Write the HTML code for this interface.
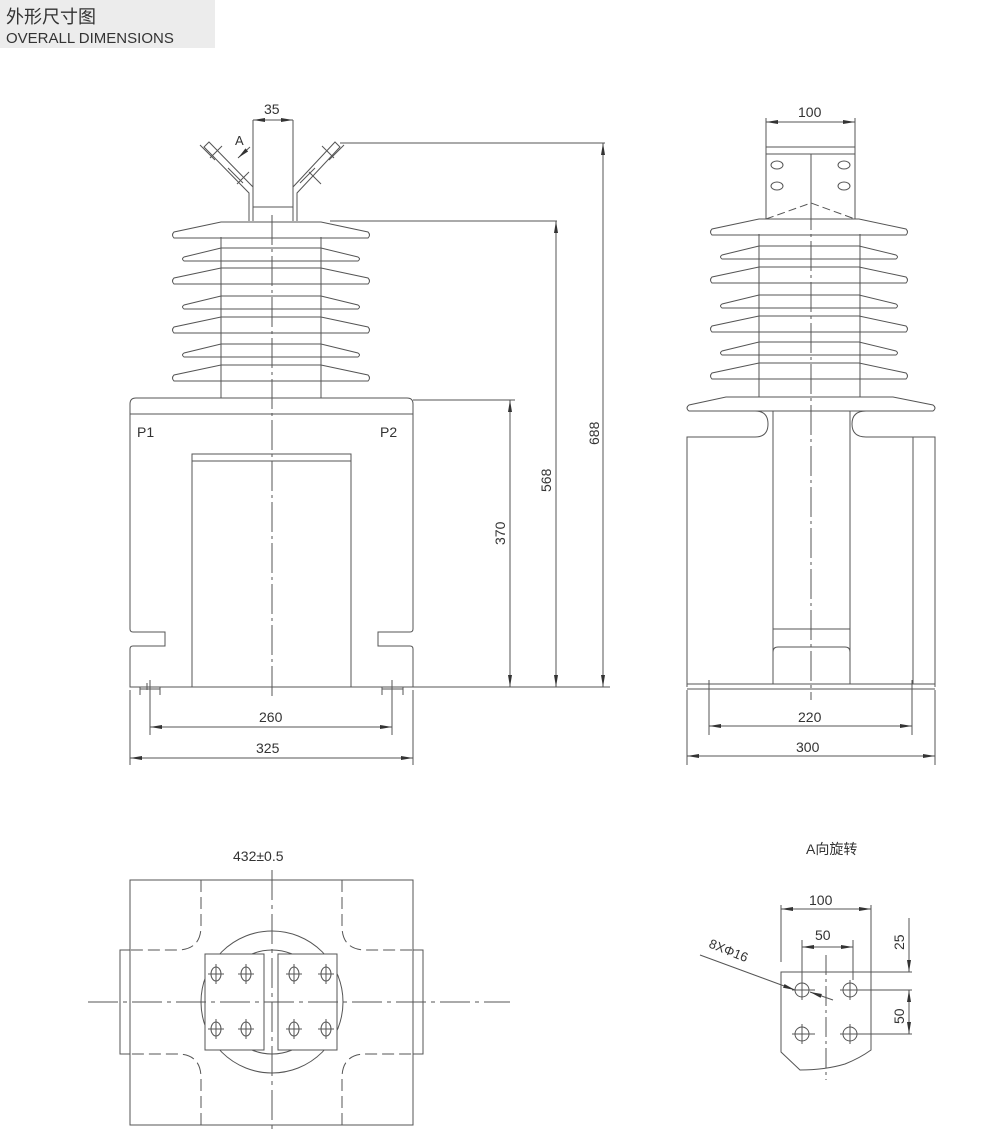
<!DOCTYPE html>
<html><head><meta charset="utf-8"><style>
html,body{margin:0;padding:0;background:#fff;}
svg{display:block;}
text{font-family:"Liberation Sans","Noto Sans CJK SC",sans-serif;fill:#333;}
</style></head><body>
<svg width="990" height="1140" viewBox="0 0 990 1140" xmlns="http://www.w3.org/2000/svg">
<defs>
<marker id="ar" markerWidth="12" markerHeight="6" refX="12" refY="3" orient="auto-start-reverse" markerUnits="userSpaceOnUse"><path d="M0,1 L12,3 L0,5 Z" fill="#333"/></marker>
<g id="shedL"><path d="M221,0 H321 L368,10 Q371,13 368,16 H174 Q171,13 174,10 Z"/></g>
<g id="shedS"><path d="M221,0 H321 L358,9 Q361,11 358,13 H184 Q181,11 184,9 Z"/></g>
</defs>
<rect x="0" y="0" width="215" height="48" fill="#ececec"/>
<text x="6" y="23" font-size="18" fill="#222">外形尺寸图</text>
<text x="6" y="43" font-size="15" fill="#222">OVERALL DIMENSIONS</text>

<g fill="none" stroke="#555" stroke-width="1">
<path d="M253,120 V221 M293,120 V221 M253,207 H293"/>
<path d="M249,221 V193 L204,147 L209,142 L253,187"/>
<path d="M297,221 V193 L340,147 L335,142 L293,187"/>
<path d="M210,158 L222,146 M237,184 L249,172 M309,172 L321,184 M322,146 L334,158 M200,145 L215,160 M228,168 L243,183 M300,183 L315,168 M329,160 L344,145"/>
<path d="M250,147 L238,158" marker-end="url(#ar)"/>
<use href="#shedL" y="222"/><use href="#shedS" y="248"/><use href="#shedL" y="268"/><use href="#shedS" y="296"/><use href="#shedL" y="317"/><use href="#shedS" y="344"/><use href="#shedL" y="365"/>
<path d="M221,237 V398 M321,237 V398"/>
<path d="M130,687 V649 Q130,646 133,646 H165 V632 H133 Q130,632 130,629 V404 Q130,398 136,398 H407 Q413,398 413,404 V629 Q413,632 410,632 H378 V646 H410 Q413,646 413,649 V687 Z"/>
<path d="M130,414 H413"/>
<path d="M192,687 V454 H351 V687 M192,461 H351"/>
<path d="M140,695 V687 M147,690 V683 M160,695 V687 M382,695 V687 M403,695 V687 M140,689 H160 M382,689 H403"/>
<path d="M272,215 V700" stroke-dasharray="30,4,3,4"/>
<path d="M330,221 H557 M340,143 H605 M413,400 H515 M413,687 H610"/>
<path d="M253,120 H293" marker-start="url(#ar)" marker-end="url(#ar)"/>
<path d="M510,400 V687" marker-start="url(#ar)" marker-end="url(#ar)"/>
<path d="M556,221 V687" marker-start="url(#ar)" marker-end="url(#ar)"/>
<path d="M603,143 V687" marker-start="url(#ar)" marker-end="url(#ar)"/>
<path d="M150,680 V735 M392,680 V735 M130,690 V765 M413,690 V765"/>
<path d="M150,727 H392" marker-start="url(#ar)" marker-end="url(#ar)"/>
<path d="M130,758 H413" marker-start="url(#ar)" marker-end="url(#ar)"/>

<path d="M766,118 V219 M855,118 V219 M766,147 H855 M766,154 H855 M811,154 V200"/>
<ellipse cx="777" cy="165" rx="6" ry="4"/><ellipse cx="844" cy="165" rx="6" ry="4"/>
<ellipse cx="777" cy="186" rx="6" ry="4"/><ellipse cx="844" cy="186" rx="6" ry="4"/>
<path d="M766,219 L811,203 L855,219" stroke-dasharray="8,4"/>
<use href="#shedL" x="538" y="219"/><use href="#shedS" x="538" y="246"/><use href="#shedL" x="538" y="267"/><use href="#shedS" x="538" y="295"/><use href="#shedL" x="538" y="316"/><use href="#shedS" x="538" y="342"/><use href="#shedL" x="538" y="363"/>
<path d="M759,234 V397 M860,234 V397"/>
<path d="M726,397 H893 L933,405 Q937,408 933,411 H689 Q685,408 689,405 Z"/>
<path d="M687,687 V437 H755 Q768,437 768,424 Q768,411 755,411 M773,411 V684"/>
<path d="M935,687 V437 H866 Q852,437 852,424 Q852,411 866,411 M850,411 V684 M913,437 V684"/>
<path d="M773,629 H850 M773,684 V652 Q773,647 778,647 H845 Q850,647 850,652"/>
<path d="M687,684 H935 M687,689 H935"/>
<path d="M811,200 V700" stroke-dasharray="30,4,3,4"/>
<path d="M766,122 H855" marker-start="url(#ar)" marker-end="url(#ar)"/>
<path d="M709,680 V735 M912,680 V735 M687,690 V765 M935,690 V765"/>
<path d="M709,726 H912" marker-start="url(#ar)" marker-end="url(#ar)"/>
<path d="M687,756 H935" marker-start="url(#ar)" marker-end="url(#ar)"/>

<path d="M130,880 H413 V950 H423 V1054 H413 V1125 H130 V1054 H120 V950 H130 Z"/>
<path d="M130,880 V1125 M413,880 V1125"/>
<g stroke-dasharray="12,5">
<path d="M201,880 V926 Q201,950 177,950 H120"/>
<path d="M342,880 V926 Q342,950 366,950 H423"/>
<path d="M201,1125 V1078 Q201,1054 177,1054 H120"/>
<path d="M342,1125 V1078 Q342,1054 366,1054 H423"/>
</g>
<circle cx="272" cy="1002" r="71"/>
<circle cx="272" cy="1002" r="52"/>
<rect x="205" y="954" width="59" height="96" fill="#fff"/>
<rect x="278" y="954" width="59" height="96" fill="#fff"/>
<g>
<ellipse cx="216" cy="974" rx="5" ry="7"/><ellipse cx="246" cy="974" rx="5" ry="7"/>
<ellipse cx="294" cy="974" rx="5" ry="7"/><ellipse cx="326" cy="974" rx="5" ry="7"/>
<ellipse cx="216" cy="1029" rx="5" ry="7"/><ellipse cx="246" cy="1029" rx="5" ry="7"/>
<ellipse cx="294" cy="1029" rx="5" ry="7"/><ellipse cx="326" cy="1029" rx="5" ry="7"/>
<path d="M208,974 H224 M238,974 H254 M286,974 H302 M318,974 H334 M208,1029 H224 M238,1029 H254 M286,1029 H302 M318,1029 H334 M216,964 V984 M246,964 V984 M294,964 V984 M326,964 V984 M216,1019 V1039 M246,1019 V1039 M294,1019 V1039 M326,1019 V1039"/>
</g>
<path d="M88,1002 H510" stroke-dasharray="30,5,4,5"/>
<path d="M272,870 V1130" stroke-dasharray="30,5,4,5"/>

<path d="M781,972 H871 V1050 Q860,1058 845,1064 Q825,1070 800,1070 L781,1052 Z"/>
<circle cx="802" cy="990" r="7"/><circle cx="850" cy="990" r="7"/>
<circle cx="802" cy="1034" r="7"/><circle cx="850" cy="1034" r="7"/>
<path d="M792,990 H815 M840,990 H912 M792,1034 H815 M840,1034 H912 M802,980 V1000 M850,980 V1000 M802,1024 V1044 M850,1024 V1044 M802,940 V980 M853,940 V980 M781,905 V962 M871,905 V972 M871,972 H912"/>
<path d="M826,955 V1080" stroke-dasharray="20,4,3,4"/>
<path d="M781,909 H871" marker-start="url(#ar)" marker-end="url(#ar)"/>
<path d="M802,947 H853" marker-start="url(#ar)" marker-end="url(#ar)"/>
<path d="M909,918 V972" marker-end="url(#ar)"/>
<path d="M909,990 V1034" marker-start="url(#ar)" marker-end="url(#ar)"/>
<path d="M700,955 L795,990" marker-end="url(#ar)"/>
<path d="M833,1000 L810,992" marker-end="url(#ar)"/>
</g>

<g font-size="14">
<text x="264" y="114">35</text>
<text x="235" y="145" font-size="13">A</text>
<text x="137" y="437">P1</text>
<text x="380" y="437">P2</text>
<text x="259" y="722">260</text>
<text x="256" y="753">325</text>
<text transform="translate(505,545) rotate(-90)">370</text>
<text transform="translate(551,492) rotate(-90)">568</text>
<text transform="translate(599,445) rotate(-90)">688</text>
<text x="798" y="117">100</text>
<text x="798" y="722">220</text>
<text x="796" y="752">300</text>
<text x="233" y="861">432±0.5</text>
<text x="806" y="854">A向旋转</text>
<text x="809" y="905">100</text>
<text x="815" y="940">50</text>
<text transform="translate(904,950) rotate(-90)">25</text>
<text transform="translate(904,1024) rotate(-90)">50</text>
<text transform="translate(708,947) rotate(22)" font-size="13">8XΦ16</text>
</g>
</svg>
</body></html>
